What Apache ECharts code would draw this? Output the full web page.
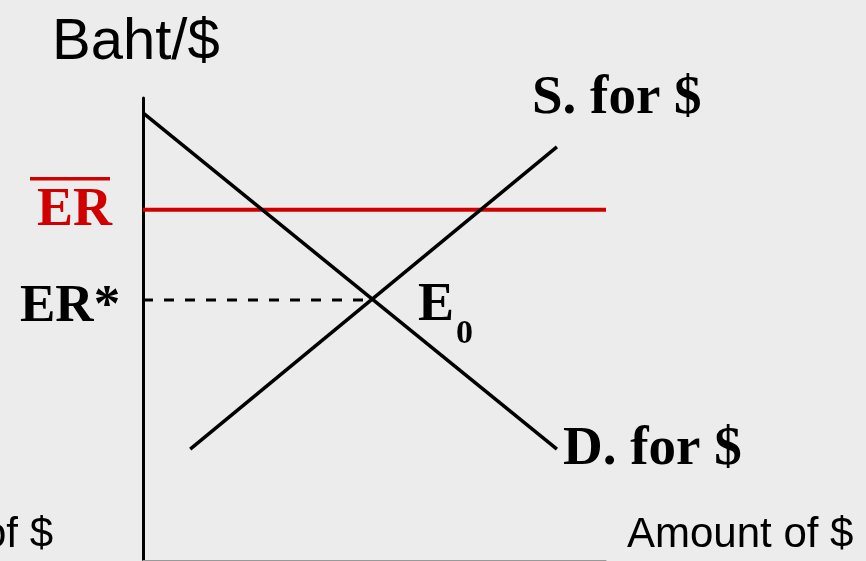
<!DOCTYPE html>
<html lang="en">
<head>
    <meta charset="UTF-8">
    <title>Baht/$ exchange rate market</title>
    <script src="https://cdn.jsdelivr.net/npm/echarts@6/dist/echarts.min.js"></script>
    <style>
        html, body { margin: 0; padding: 0; background: #ececec; }
        #chart { width: 866px; height: 561px; }
    </style>
</head>
<body>
    <div id="chart"></div>

    <script>
        // Curve data (amount of $, baht per $) on a 0-100 scale
        var demandLine = [[0, 96.8], [89.4, 24.0]];
        var supplyLine = [[10.2, 24.0], [89.4, 89.4]];
        var erBarLine = [[0, 75.8], [100, 75.8]];
        var erStarLine = [[0, 56.3], [49.5, 56.3]];

        // Text labels
        var yAxisTitle = 'Baht/$';
        var xAxisTitle = 'Amount of $';
        var supplyLabel = 'S. for $';
        var demandLabel = 'D. for $';
        var erBarLabel = 'ER';
        var erStarLabel = 'ER*';
        var eqLabel = ['E', '0'];

        var chart = echarts.init(document.getElementById('chart'));

        var serif = '"Liberation Serif", "Times New Roman", serif';
        var sans = '"Liberation Sans", Arial, sans-serif';

        function lineSeries(data, color, width, type) {
            return {
                type: 'line',
                data: data,
                symbol: 'none',
                silent: true,
                lineStyle: { color: color, width: width, type: type || 'solid', cap: 'butt' }
            };
        }

        function label(text, x, y, size, opts) {
            opts = opts || {};
            return {
                type: 'text',
                x: x,
                y: y,
                style: {
                    text: text,
                    fill: opts.color || '#000',
                    font: (opts.bold ? 'bold ' : '') + size + 'px ' + (opts.family || serif),
                    align: opts.align || 'left',
                    verticalAlign: 'middle'
                }
            };
        }

        var option = {
            backgroundColor: '#ececec',
            animation: false,
            grid: { left: 143, top: 98, width: 463, height: 462 },
            xAxis: {
                type: 'value',
                min: 0,
                max: 100,
                axisLine: { show: true, lineStyle: { color: '#999', width: 1 } },
                axisTick: { show: false },
                axisLabel: { show: false },
                splitLine: { show: false }
            },
            yAxis: {
                type: 'value',
                min: 0,
                max: 100,
                axisLine: { show: true, lineStyle: { color: '#000', width: 3 } },
                axisTick: { show: false },
                axisLabel: { show: false },
                splitLine: { show: false }
            },
            series: [
                lineSeries(erStarLine, '#000', 3, [10, 11]),
                lineSeries(erBarLine, '#d00000', 4),
                lineSeries(demandLine, '#000', 3.5),
                lineSeries(supplyLine, '#000', 3.5)
            ],
            graphic: [
                label(yAxisTitle, 52, 43, 58, { family: sans }),
                label(supplyLabel, 532, 99, 55, { bold: true }),
                label(demandLabel, 563, 450, 55, { bold: true }),
                label(erBarLabel, 37, 211, 54, { bold: true, color: '#d00000' }),
                {
                    type: 'rect',
                    shape: { x: 30, y: 177, width: 80, height: 3.5 },
                    style: { fill: '#d00000' }
                },
                label(erStarLabel, 20, 307, 53, { bold: true }),
                label(eqLabel[0], 418, 306, 54, { bold: true }),
                label(eqLabel[1], 456, 334, 34, { bold: true }),
                label(xAxisTitle, 627, 535, 42, { family: sans }),
                label(xAxisTitle, 53, 535, 42, { family: sans, align: 'right' })
            ]
        };

        chart.setOption(option);
    </script>
</body>
</html>
